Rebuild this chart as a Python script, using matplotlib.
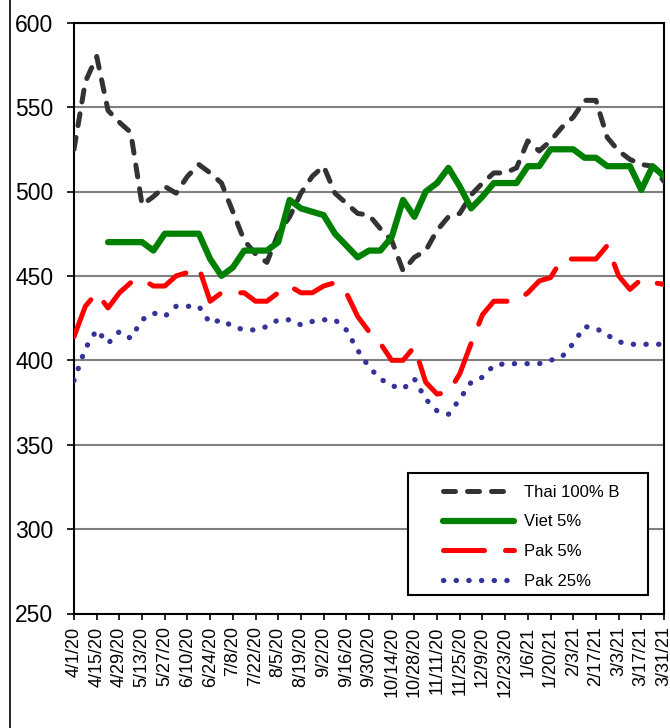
import numpy as np
import pandas as pd
import matplotlib
matplotlib.use("Agg")
import matplotlib.pyplot as plt
from matplotlib.lines import Line2D
from matplotlib.patches import Rectangle

plt.rcParams['font.family'] = ['Liberation Sans', 'DejaVu Sans']

# weekly quotes, 4/1/20 .. 3/31/21
weeks = pd.date_range('2020-04-01', periods=53, freq='7D')

thai_100b = [525, 565, 580, 548, 541, 535, 492, 497, 503, 499, 509, 516, 511, 505,
             488, 471, 463, 458, 475, 485, 499, 509, 515, 499, 493, 487, 486, 478,
             471, 453, 461, 465, 477, 485, 487, 498, 505, 511, 511, 514, 530, 524,
             530, 538, 544, 554, 554, 532, 524, 519, 516, 515, 506]

viet_5 = [np.nan, np.nan, np.nan, 470, 470, 470, 470, 465, 475, 475, 475, 475, 460, 450,
          455, 465, 465, 465, 470, 495, 490, 488, 486, 475, 468, 461, 465, 465,
          473, 495, 485, 500, 505, 514, 503, 490, 497, 505, 505, 505, 515, 515,
          525, 525, 525, 520, 520, 515, 515, 515, 501, 515, 509]

pak_5 = [414, 432, 440, 431, 440, 446, 448, 444, 444, 450, 452, 455, 435, 440,
         440, 440, 435, 435, 440, 444, 440, 440, 444, 446, 440, 426, 417, 410,
         400, 400, 408, 387, 380, 381, 392, 410, 427, 435, 435, 435, 440, 447,
         449, 460, 460, 460, 460, 468, 450, 442, 448, 446, 445]

pak_25 = [388, 407, 418, 410, 417, 413, 424, 428, 426, 432, 432, 432, 422, 424,
          420, 418, 418, 420, 424, 424, 421, 423, 424, 424, 418, 406, 396, 389,
          385, 383, 389, 377, 370, 368, 377, 387, 390, 397, 398, 398, 398, 398,
          400, 402, 410, 420, 419, 415, 411, 409.5, 409.5, 409.5, 409.5]

tick_dates = weeks[::2]
tick_labels = [f"{d.month}/{d.day}/{d.year % 100}" for d in tick_dates]

fig = plt.figure(figsize=(6.7, 7.28), dpi=100)
ax = fig.add_axes([74 / 670, 1 - 613.5 / 728, 590 / 670, 590.8 / 728])

ax.plot(weeks, thai_100b, color='#333333', lw=3.6, dashes=(2.4, 2.4),
        dash_capstyle='round', solid_joinstyle='round', label='Thai 100% B', zorder=3)
ax.plot(weeks, viet_5, color='#008000', lw=4.5, solid_joinstyle='round',
        solid_capstyle='round', label='Viet 5%', zorder=4)
ax.plot(weeks, pak_5, color='#ff0000', lw=3.6, dashes=(8.2, 4.2),
        dash_capstyle='round', label='Pak 5%', zorder=3)
ax.plot(weeks, pak_25, color='#333399', lw=3.8, dashes=(0.05, 2.35),
        dash_capstyle='round', label='Pak 25%', zorder=3)

ax.set_ylim(250, 600)
ax.set_yticks(np.arange(250, 601, 50))
ax.set_xlim(weeks[0], weeks[-1])
ax.set_xticks(tick_dates)
ax.set_xticklabels(tick_labels, rotation=90, fontsize=13)
ax.tick_params(axis='y', labelsize=16.5, length=5, width=1.2, pad=10)
ax.tick_params(axis='x', length=4.3, width=1.2, pad=5)
ax.yaxis.grid(True, color='#808080', lw=1.5)
ax.set_axisbelow(True)
for s in ax.spines.values():
    s.set_linewidth(1.5)
    s.set_color('black')

# legend box
ax.add_patch(Rectangle((0.566, 0.031), 0.407, 0.207, transform=ax.transAxes,
                       facecolor='white', edgecolor='black', lw=1.5, zorder=5))
leg = ax.legend(loc='upper left', bbox_to_anchor=(0.625, 0.218), frameon=False,
                fontsize=12, handlelength=4.3, handletextpad=0.6,
                labelspacing=0.88, borderpad=0, borderaxespad=0)
leg.set_zorder(6)

# outer chart border
fig.add_artist(Line2D([10 / 670, 10 / 670], [0, 1], color='black', lw=1.2,
                      transform=fig.transFigure))

fig.savefig('out.png', dpi=100)
